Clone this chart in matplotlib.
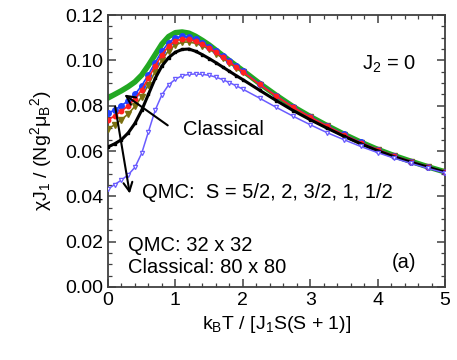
#!/usr/bin/env python3
"""Susceptibility vs scaled temperature, J2 = 0 (QMC and classical)."""

import matplotlib
matplotlib.use("Agg")
import matplotlib.pyplot as plt
from matplotlib.ticker import MultipleLocator, FormatStrFormatter

plt.rcParams["font.family"] = ["Liberation Sans", "DejaVu Sans"]
plt.rcParams["mathtext.default"] = "regular"
plt.rcParams["font.size"] = 14

# shared temperature grid kB T / [J1 S(S+1)]
T = [0.0, 0.1, 0.2, 0.3, 0.4, 0.5, 0.6, 0.7, 0.8, 0.9, 1.0,
     1.1, 1.2, 1.3, 1.4, 1.5, 1.6, 1.7, 1.8, 1.9, 2.0,
     2.25, 2.5, 2.75, 3.0, 3.25, 3.5, 3.75, 4.0, 4.25, 4.5, 4.75, 5.0]

chi_classical = [0.0834, 0.0850, 0.0866, 0.0884, 0.0905, 0.0935, 0.0978, 0.1025, 0.1072, 0.1105, 0.1122,
                 0.1125, 0.1120, 0.1106, 0.1088, 0.1068, 0.1045, 0.1022, 0.0999, 0.0977, 0.0955,
                 0.0898, 0.0845, 0.0795, 0.0752, 0.0712, 0.0674, 0.0639, 0.0607, 0.0579, 0.0554, 0.0530, 0.0508]
chi_s52 = [0.0766, 0.0782, 0.0800, 0.0822, 0.0850, 0.0888, 0.0937, 0.0990, 0.1040, 0.1078, 0.1100,
           0.1106, 0.1102, 0.1092, 0.1078, 0.1061, 0.1040, 0.1018, 0.0996, 0.0974, 0.0952,
           0.0896, 0.0843, 0.0794, 0.0751, 0.0711, 0.0673, 0.0638, 0.0606, 0.0578, 0.0553, 0.0530, 0.0507]
chi_s2 = [0.0737, 0.0755, 0.0776, 0.0800, 0.0830, 0.0870, 0.0921, 0.0975, 0.1025, 0.1064, 0.1086,
          0.1094, 0.1092, 0.1084, 0.1071, 0.1055, 0.1035, 0.1014, 0.0993, 0.0971, 0.0950,
          0.0894, 0.0842, 0.0793, 0.0750, 0.0710, 0.0672, 0.0637, 0.0606, 0.0578, 0.0553, 0.0530, 0.0507]
chi_s32 = [0.0697, 0.0716, 0.0738, 0.0764, 0.0797, 0.0840, 0.0893, 0.0950, 0.1002, 0.1043, 0.1068,
           0.1080, 0.1081, 0.1075, 0.1064, 0.1049, 0.1030, 0.1010, 0.0989, 0.0968, 0.0947,
           0.0892, 0.0840, 0.0791, 0.0748, 0.0709, 0.0671, 0.0636, 0.0605, 0.0577, 0.0552, 0.0529, 0.0507]
chi_s1 = [0.0618, 0.0632, 0.0650, 0.0680, 0.0722, 0.0780, 0.0850, 0.0920, 0.0975, 0.1012, 0.1036,
          0.1048, 0.1050, 0.1040, 0.1025, 0.1008, 0.0990, 0.0971, 0.0952, 0.0933, 0.0915,
          0.0868, 0.0822, 0.0778, 0.0738, 0.0701, 0.0665, 0.0632, 0.0601, 0.0574, 0.0550, 0.0528, 0.0506]
chi_s12 = [0.0432, 0.0452, 0.0472, 0.0495, 0.0528, 0.0590, 0.0685, 0.0780, 0.0848, 0.0892, 0.0917,
           0.0932, 0.0938, 0.0940, 0.0938, 0.0934, 0.0926, 0.0915, 0.0902, 0.0888, 0.0873,
           0.0833, 0.0792, 0.0753, 0.0716, 0.0681, 0.0650, 0.0620, 0.0593, 0.0568, 0.0545, 0.0523, 0.0503]

fig = plt.figure(figsize=(4.57, 3.6), dpi=100)
ax = fig.add_axes([0.2363, 0.2028, 0.7374, 0.7555])

ax.plot(T, chi_classical, color="#22a822", lw=4.0, zorder=2)
ax.plot(T, chi_s32, color="#7a7010", lw=1.2, marker="v", ms=4.0, zorder=3)
ax.plot(T, chi_s2, color="#ff2020", lw=1.2, marker="o", ms=3.2, zorder=4)
ax.plot(T, chi_s52, color="#2040ff", lw=1.2, marker="o", ms=4.0, zorder=3.5)
ax.plot(T, chi_s1, color="black", lw=2.2, marker="s", ms=2.0, zorder=5)
ax.plot(T, chi_s12, color="#6a5cff", lw=1.1, marker="v", ms=3.0,
        mfc="white", mec="#6a5cff", mew=0.9, zorder=6)

ax.set_xlim(0, 5)
ax.set_ylim(0, 0.12)
ax.xaxis.set_major_locator(MultipleLocator(1))
ax.xaxis.set_minor_locator(MultipleLocator(0.2))
ax.yaxis.set_major_locator(MultipleLocator(0.02))
ax.yaxis.set_minor_locator(MultipleLocator(0.005))
ax.yaxis.set_major_formatter(FormatStrFormatter("%.2f"))
ax.tick_params(which="both", direction="in", top=True, right=True,
               color="#404040", labelsize=14)
ax.tick_params(which="major", length=6, width=1.1)
ax.tick_params(which="minor", length=3, width=0.9)
for sp in ax.spines.values():
    sp.set_color("#404040")
    sp.set_linewidth(1.3)

ax.set_xlabel("k$_B$T / [J$_1$S(S + 1)]", fontsize=14, labelpad=4)
ax.set_ylabel("χJ$_1$ / (Ng$^2$μ$_B$$^2$)", fontsize=14, labelpad=8)

ax.text(3.77, 0.0984, "J$_2$ = 0", fontsize=14.5, va="center")
ax.text(1.11, 0.0693, "Classical", fontsize=14.5, va="center")
ax.text(0.50, 0.0419, "QMC:  S = 5/2, 2, 3/2, 1, 1/2", fontsize=14.5, va="center")
ax.text(0.30, 0.0185, "QMC: 32 x 32", fontsize=14.5, va="center")
ax.text(0.30, 0.0088, "Classical: 80 x 80", fontsize=14.5, va="center")
ax.text(4.21, 0.0106, "(a)", fontsize=14.5, va="center")

ax.annotate("", xy=(0.21, 0.0856), xytext=(0.92, 0.0706),
            arrowprops=dict(arrowstyle="->", color="black", lw=1.5,
                            mutation_scale=16), zorder=8)
ax.annotate("", xy=(0.33, 0.0400), xytext=(0.10, 0.0808),
            arrowprops=dict(arrowstyle="->", color="black", lw=1.5,
                            mutation_scale=16), zorder=8)

fig.savefig("out.png", dpi=100)
